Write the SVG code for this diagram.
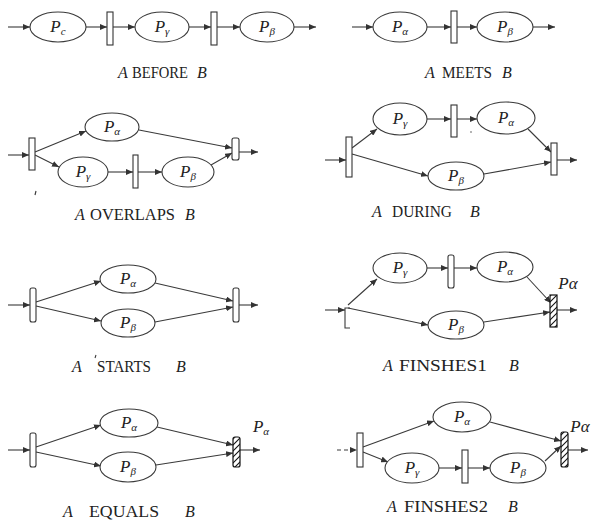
<svg xmlns="http://www.w3.org/2000/svg" width="593" height="521" viewBox="0 0 593 521">
  <style>
    .place { fill: #ffffff; stroke: #3a3a3a; stroke-width: 1.1; }
    .bar { fill: #ffffff; stroke: #333333; stroke-width: 1.1; }
    .hbar { fill: url(#hatch); stroke: #111111; stroke-width: 1.2; }
    .arc { fill: none; stroke: #3a3a3a; stroke-width: 1.1; marker-end: url(#head); }
    .plain { fill: none; stroke: #3a3a3a; stroke-width: 1.1; }
    .lbl { font-family: "Liberation Serif", "Times New Roman", serif; font-style: italic; font-size: 17px; fill: #222222; text-anchor: middle; }
    .sub { font-size: 11px; }
    .cap { font-family: "Liberation Serif", "Times New Roman", serif; font-size: 16px; fill: #222222; }
    .it { font-style: italic; }
  </style>
  <defs>
    <marker id="head" markerUnits="userSpaceOnUse" markerWidth="8" markerHeight="6" refX="7" refY="3" orient="auto">
      <path d="M0,0 L7,3 L0,6 z" fill="#333333"/>
    </marker>
    <pattern id="hatch" patternUnits="userSpaceOnUse" width="6" height="6">
      <rect width="6" height="6" fill="#ffffff"/>
      <path d="M-1,1 L1,-1 M0,6 L6,0 M5,7 L7,5" stroke="#111111" stroke-width="1.1"/>
    </pattern>
  </defs>

  <!-- connectors -->
  <g id="connectors">
    <!-- A BEFORE B -->
    <line class="arc" x1="8" y1="27" x2="30" y2="27"/>
    <line class="arc" x1="86" y1="27" x2="107" y2="27"/>
    <line class="arc" x1="113" y1="27" x2="135" y2="27"/>
    <line class="arc" x1="189" y1="27" x2="211" y2="27"/>
    <line class="arc" x1="217" y1="27" x2="240" y2="27"/>
    <line class="arc" x1="294" y1="27" x2="316" y2="27"/>
    <!-- A MEETS B -->
    <line class="arc" x1="352" y1="27" x2="373" y2="27"/>
    <line class="arc" x1="427" y1="27" x2="451" y2="27"/>
    <line class="arc" x1="457" y1="27" x2="477" y2="27"/>
    <line class="arc" x1="533" y1="27" x2="555" y2="27"/>
    <!-- A OVERLAPS B -->
    <line class="arc" x1="8" y1="155" x2="29" y2="155"/>
    <line class="arc" x1="35" y1="152" x2="86" y2="131"/>
    <line class="arc" x1="35" y1="155" x2="59" y2="167"/>
    <line class="arc" x1="139" y1="130" x2="232" y2="148"/>
    <line class="arc" x1="108" y1="172" x2="133" y2="172"/>
    <line class="arc" x1="138" y1="172" x2="162" y2="172"/>
    <line class="arc" x1="211" y1="165" x2="232" y2="153"/>
    <line class="arc" x1="239" y1="152" x2="258" y2="152"/>
    <!-- A DURING B -->
    <line class="arc" x1="325" y1="160" x2="346" y2="160"/>
    <line class="arc" x1="352" y1="148" x2="377" y2="129"/>
    <line class="arc" x1="352" y1="154" x2="428" y2="176"/>
    <line class="arc" x1="427" y1="119" x2="451" y2="119"/>
    <line class="arc" x1="457" y1="119" x2="477" y2="119"/>
    <line class="arc" x1="528" y1="129" x2="551" y2="152"/>
    <line class="arc" x1="484" y1="174" x2="551" y2="162"/>
    <line class="arc" x1="557" y1="160" x2="577" y2="160"/>
    <!-- A STARTS B -->
    <line class="arc" x1="8" y1="305" x2="30" y2="305"/>
    <line class="arc" x1="36" y1="302" x2="101" y2="281"/>
    <line class="arc" x1="36" y1="306" x2="101" y2="321"/>
    <line class="arc" x1="155" y1="283" x2="233" y2="301"/>
    <line class="arc" x1="155" y1="322" x2="233" y2="307"/>
    <line class="arc" x1="239" y1="305" x2="258" y2="305"/>
    <!-- A FINSHES1 B -->
    <line class="arc" x1="325" y1="310" x2="345" y2="310"/>
    <line class="arc" x1="348" y1="305" x2="377" y2="279"/>
    <line class="arc" x1="348" y1="308" x2="428" y2="325"/>
    <line class="arc" x1="427" y1="268" x2="448" y2="268"/>
    <line class="arc" x1="454" y1="268" x2="477" y2="268"/>
    <line class="arc" x1="527" y1="277" x2="551" y2="303"/>
    <line class="arc" x1="484" y1="322" x2="550" y2="312"/>
    <line class="arc" x1="557" y1="310" x2="577" y2="310"/>
    <!-- A EQUALS B -->
    <line class="arc" x1="8" y1="450" x2="30" y2="450"/>
    <line class="arc" x1="36" y1="447" x2="101" y2="425"/>
    <line class="arc" x1="36" y1="452" x2="101" y2="466"/>
    <line class="arc" x1="157" y1="427" x2="233" y2="445"/>
    <line class="arc" x1="156" y1="465" x2="233" y2="453"/>
    <line class="arc" x1="240" y1="450" x2="260" y2="450"/>
    <!-- A FINSHES2 B -->
    <line class="arc" x1="337" y1="450" x2="357" y2="450" stroke-dasharray="4 3"/>
    <line class="arc" x1="363" y1="447" x2="434" y2="421"/>
    <line class="arc" x1="363" y1="452" x2="388" y2="462"/>
    <line class="arc" x1="439" y1="468" x2="462" y2="468"/>
    <line class="arc" x1="468" y1="468" x2="490" y2="468"/>
    <line class="arc" x1="490" y1="422" x2="561" y2="441"/>
    <line class="arc" x1="545" y1="461" x2="561" y2="446"/>
    <line class="arc" x1="568" y1="450" x2="588" y2="450"/>
  </g>

  <!-- A BEFORE B -->
  <g id="before-pc"><ellipse class="place" cx="58" cy="27" rx="28" ry="15"/><text class="lbl" x="58" y="32">P<tspan class="sub" dy="3">c</tspan></text></g>
  <g id="before-t1"><rect class="bar" x="107" y="12" width="6" height="33"/></g>
  <g id="before-pg"><ellipse class="place" cx="162" cy="27" rx="27" ry="15"/><text class="lbl" x="162" y="32">P<tspan class="sub" dy="3">γ</tspan></text></g>
  <g id="before-t2"><rect class="bar" x="211" y="12" width="6" height="33"/></g>
  <g id="before-pb"><ellipse class="place" cx="267" cy="27" rx="27" ry="15"/><text class="lbl" x="267" y="32">P<tspan class="sub" dy="3">β</tspan></text></g>

  <!-- A MEETS B -->
  <g id="meets-pa"><ellipse class="place" cx="400" cy="27" rx="27" ry="15"/><text class="lbl" x="400" y="32">P<tspan class="sub" dy="3">α</tspan></text></g>
  <g id="meets-t"><rect class="bar" x="451" y="11" width="6" height="32"/></g>
  <g id="meets-pb"><ellipse class="place" cx="505" cy="27" rx="28" ry="15"/><text class="lbl" x="505" y="32">P<tspan class="sub" dy="3">β</tspan></text></g>

  <!-- A OVERLAPS B -->
  <g id="overlaps-t1"><rect class="bar" x="29" y="138" width="6" height="32"/></g>
  <g id="overlaps-pa"><ellipse class="place" cx="112" cy="127" rx="27" ry="14"/><text class="lbl" x="112" y="132">P<tspan class="sub" dy="3">α</tspan></text></g>
  <g id="overlaps-pg"><ellipse class="place" cx="83" cy="172" rx="25" ry="15"/><text class="lbl" x="83" y="177">P<tspan class="sub" dy="3">γ</tspan></text></g>
  <g id="overlaps-t2"><rect class="bar" x="133" y="155" width="5" height="33"/></g>
  <g id="overlaps-pb"><ellipse class="place" cx="188" cy="172" rx="26" ry="15"/><text class="lbl" x="188" y="177">P<tspan class="sub" dy="3">β</tspan></text></g>
  <g id="overlaps-t3"><rect class="bar" x="232" y="138" width="7" height="22" rx="2"/></g>
  <path class="plain" d="M36,191 L35,195"/>

  <!-- A DURING B -->
  <g id="during-t1"><rect class="bar" x="346" y="137" width="6" height="40"/></g>
  <g id="during-pg"><ellipse class="place" cx="400" cy="119" rx="27" ry="16"/><text class="lbl" x="400" y="124">P<tspan class="sub" dy="3">γ</tspan></text></g>
  <g id="during-t2"><rect class="bar" x="451" y="105" width="6" height="32"/></g>
  <g id="during-pa"><ellipse class="place" cx="506" cy="118" rx="29" ry="16"/><text class="lbl" x="506" y="123">P<tspan class="sub" dy="3">α</tspan></text></g>
  <g id="during-pb"><ellipse class="place" cx="456" cy="176" rx="28" ry="14"/><text class="lbl" x="456" y="181">P<tspan class="sub" dy="3">β</tspan></text></g>
  <g id="during-t3"><rect class="bar" x="551" y="143" width="6" height="32"/></g>
  <circle cx="471" cy="132" r="0.8" fill="#555555"/>

  <!-- A STARTS B -->
  <g id="starts-t1"><rect class="bar" x="30" y="288" width="6" height="34" rx="2"/></g>
  <g id="starts-pa"><ellipse class="place" cx="128" cy="279" rx="28" ry="14"/><text class="lbl" x="128" y="284">P<tspan class="sub" dy="3">α</tspan></text></g>
  <g id="starts-pb"><ellipse class="place" cx="128" cy="323" rx="27" ry="14"/><text class="lbl" x="128" y="328">P<tspan class="sub" dy="3">β</tspan></text></g>
  <g id="starts-t2"><rect class="bar" x="233" y="288" width="6" height="34" rx="2"/></g>
  <path class="plain" d="M96,355 L95,358"/>

  <!-- A FINSHES1 B -->
  <g id="finishes1-t1"><path class="plain" d="M350,308 L345,308 L345,328 L350,328"/></g>
  <g id="finishes1-pg"><ellipse class="place" cx="400" cy="268" rx="27" ry="15"/><text class="lbl" x="400" y="273">P<tspan class="sub" dy="3">γ</tspan></text></g>
  <g id="finishes1-t2"><rect class="bar" x="448" y="255" width="6" height="33" rx="2"/></g>
  <g id="finishes1-pa"><ellipse class="place" cx="505" cy="267" rx="28" ry="15"/><text class="lbl" x="505" y="272">P<tspan class="sub" dy="3">α</tspan></text></g>
  <g id="finishes1-pb"><ellipse class="place" cx="456" cy="325" rx="28" ry="14"/><text class="lbl" x="456" y="330">P<tspan class="sub" dy="3">β</tspan></text></g>
  <g id="finishes1-t3"><rect class="hbar" x="550" y="295" width="7" height="32"/><text class="lbl" x="568" y="289">Pα</text></g>

  <!-- A EQUALS B -->
  <g id="equals-t1"><rect class="bar" x="30" y="433" width="6" height="34" rx="2"/></g>
  <g id="equals-pa"><ellipse class="place" cx="129" cy="423" rx="29" ry="14"/><text class="lbl" x="129" y="428">P<tspan class="sub" dy="3">α</tspan></text></g>
  <g id="equals-pb"><ellipse class="place" cx="128" cy="467" rx="28" ry="15"/><text class="lbl" x="128" y="472">P<tspan class="sub" dy="3">β</tspan></text></g>
  <g id="equals-t2"><rect class="hbar" x="233" y="437" width="7" height="30" rx="2"/><text class="lbl" x="261" y="432">P<tspan class="sub" dy="3">α</tspan></text></g>

  <!-- A FINSHES2 B -->
  <g id="finishes2-t1"><rect class="bar" x="357" y="433" width="6" height="34"/></g>
  <g id="finishes2-pa"><ellipse class="place" cx="462" cy="417" rx="29" ry="15"/><text class="lbl" x="462" y="422">P<tspan class="sub" dy="3">α</tspan></text></g>
  <g id="finishes2-pg"><ellipse class="place" cx="412" cy="468" rx="27" ry="15"/><text class="lbl" x="412" y="473">P<tspan class="sub" dy="3">γ</tspan></text></g>
  <g id="finishes2-t2"><rect class="bar" x="462" y="450" width="6" height="33"/></g>
  <g id="finishes2-pb"><ellipse class="place" cx="518" cy="468" rx="28" ry="15"/><text class="lbl" x="518" y="473">P<tspan class="sub" dy="3">β</tspan></text></g>
  <g id="finishes2-t3"><rect class="hbar" x="561" y="432" width="7" height="35" rx="2"/><text class="lbl" x="580" y="432">Pα</text></g>

  <!-- captions -->
  <g id="captions">
    <text class="cap it" x="118" y="78">A</text><text class="cap" x="132" y="78" textLength="56" lengthAdjust="spacingAndGlyphs">BEFORE</text><text class="cap it" x="197" y="78">B</text>
    <text class="cap it" x="425" y="78">A</text><text class="cap" x="442" y="78" textLength="50" lengthAdjust="spacingAndGlyphs">MEETS</text><text class="cap it" x="502" y="78">B</text>
    <text class="cap it" x="75" y="220">A</text><text class="cap" x="90" y="220" textLength="85" lengthAdjust="spacingAndGlyphs">OVERLAPS</text><text class="cap it" x="185" y="220">B</text>
    <text class="cap it" x="372" y="217">A</text><text class="cap" x="392" y="217" textLength="60" lengthAdjust="spacingAndGlyphs">DURING</text><text class="cap it" x="470" y="217">B</text>
    <text class="cap it" x="72" y="372">A</text><text class="cap" x="97" y="372" textLength="54" lengthAdjust="spacingAndGlyphs">STARTS</text><text class="cap it" x="176" y="372">B</text>
    <text class="cap it" x="383" y="371">A</text><text class="cap" x="399" y="371" textLength="88" lengthAdjust="spacingAndGlyphs">FINSHES1</text><text class="cap it" x="509" y="371">B</text>
    <text class="cap it" x="63" y="517">A</text><text class="cap" x="89" y="517" textLength="70" lengthAdjust="spacingAndGlyphs">EQUALS</text><text class="cap it" x="185" y="517">B</text>
    <text class="cap it" x="387" y="512">A</text><text class="cap" x="404" y="512" textLength="84" lengthAdjust="spacingAndGlyphs">FINSHES2</text><text class="cap it" x="508" y="512">B</text>
  </g>
</svg>
